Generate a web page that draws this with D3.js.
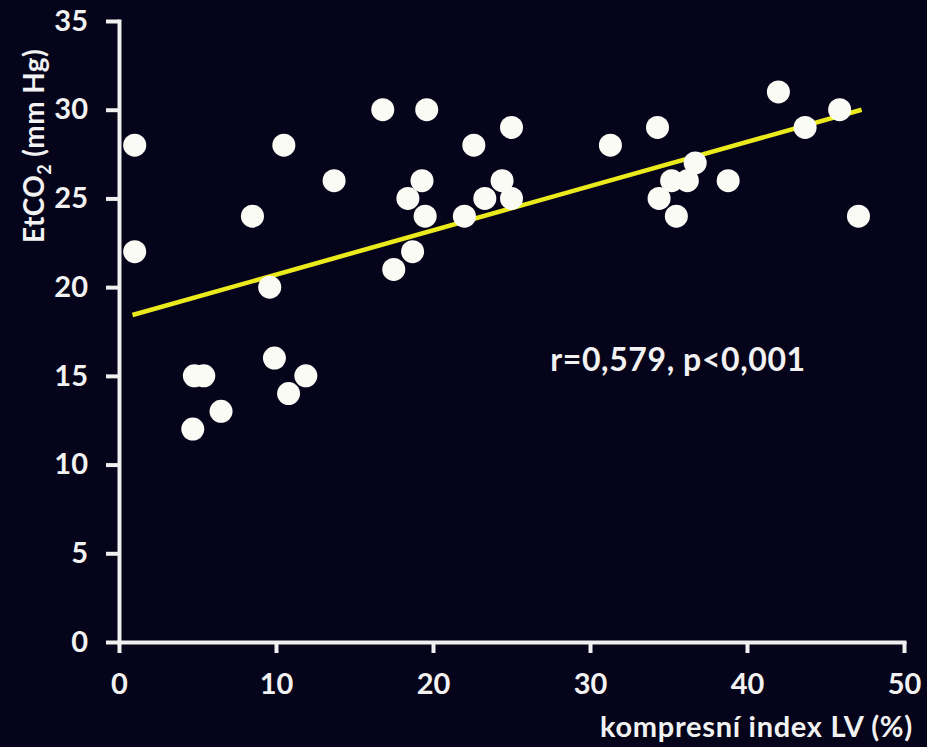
<!DOCTYPE html>
<html>
<head>
<meta charset="utf-8">
<script src="https://cdn.jsdelivr.net/npm/d3@7"></script>
<style>
  html, body { margin: 0; padding: 0; background: #05041a; }
  svg { display: block; }
  text { font-family: Lato, "Open Sans", sans-serif; font-weight: 700; fill: #f2f2f2; }
</style>
</head>
<body>
<svg id="chart" width="927" height="747"></svg>
<script>
// Data
const xValues = [1.0, 1.0, 4.7, 4.8, 5.4, 6.5, 8.5, 9.6, 9.9, 10.5, 10.8, 11.9, 13.7,
                 16.8, 17.5, 18.4, 18.7, 19.3, 19.5, 19.6, 22.0, 22.6, 23.3, 24.4, 25.0, 25.0,
                 31.3, 34.3, 34.4, 35.2, 35.5, 36.2, 36.7, 38.8, 42.0, 43.7, 45.9, 47.1];
const yValues = [28, 22, 12, 15, 15, 13, 24, 20, 16, 28, 14, 15, 26,
                 30, 21, 25, 22, 26, 24, 30, 24, 28, 25, 26, 29, 25,
                 28, 29, 25, 26, 24, 26, 27, 26, 31, 29, 30, 24];
const fitX = [0.86, 47.3];
const fitY = [18.43, 30.0];
const xTicks = [0, 10, 20, 30, 40, 50];
const yTicks = [0, 5, 10, 15, 20, 25, 30, 35];
const xTitle = "kompresní index LV (%)";
const annotation = "r=0,579, p<0,001";

const svg = d3.select("#chart");
const x = d3.scaleLinear().domain([0, 50]).range([119, 904]);
const y = d3.scaleLinear().domain([0, 35]).range([642, 21]);

const axisColor = "#f0f0f0";

// Y axis
const gy = svg.append("g").attr("transform", `translate(${x(0)},0)`)
  .call(d3.axisLeft(y).tickValues(yTicks).tickSize(13).tickPadding(18).tickSizeOuter(0));
// X axis
const gx = svg.append("g").attr("transform", `translate(0,${y(0)})`)
  .call(d3.axisBottom(x).tickValues(xTicks).tickSize(11).tickPadding(20).tickSizeOuter(0));

[gx, gy].forEach(g => {
  g.select(".domain").attr("stroke", axisColor).attr("stroke-width", 4).attr("stroke-linecap", "square");
  g.selectAll(".tick line").attr("stroke", axisColor).attr("stroke-width", 4);
  g.selectAll(".tick text").attr("fill", "#f2f2f2").style("font-size", "29px")
    .style("font-family", "Lato, 'Open Sans', sans-serif").style("font-weight", 700);
});

// Regression line
svg.append("line")
  .attr("x1", x(fitX[0])).attr("y1", y(fitY[0]))
  .attr("x2", x(fitX[1])).attr("y2", y(fitY[1]))
  .attr("stroke", "#eaea1c").attr("stroke-width", 4.5);

// Points
const pts = xValues.map((v, i) => ({ x: v, y: yValues[i] }));
svg.append("g").selectAll("circle").data(pts).join("circle")
  .attr("cx", d => x(d.x)).attr("cy", d => y(d.y)).attr("r", 11.5)
  .attr("fill", "#fbfbf6");

// Annotation
svg.append("text").attr("x", 678).attr("y", 371).attr("text-anchor", "middle")
  .style("font-size", "32px").style("letter-spacing", "0.6px").text(annotation);

// X title
svg.append("text").attr("x", 913).attr("y", 737).attr("text-anchor", "end")
  .style("font-size", "29px").style("letter-spacing", "0.7px").text(xTitle);

// Y title
const yt = svg.append("text").attr("transform", "translate(44,146) rotate(-90)")
  .attr("text-anchor", "middle").style("font-size", "28px").style("letter-spacing", "0.4px");
yt.append("tspan").text("EtCO");
yt.append("tspan").attr("dy", 7).style("font-size", "18px").text("2");
yt.append("tspan").attr("dy", -7).text(" (mm Hg)");
</script>
</body>
</html>
